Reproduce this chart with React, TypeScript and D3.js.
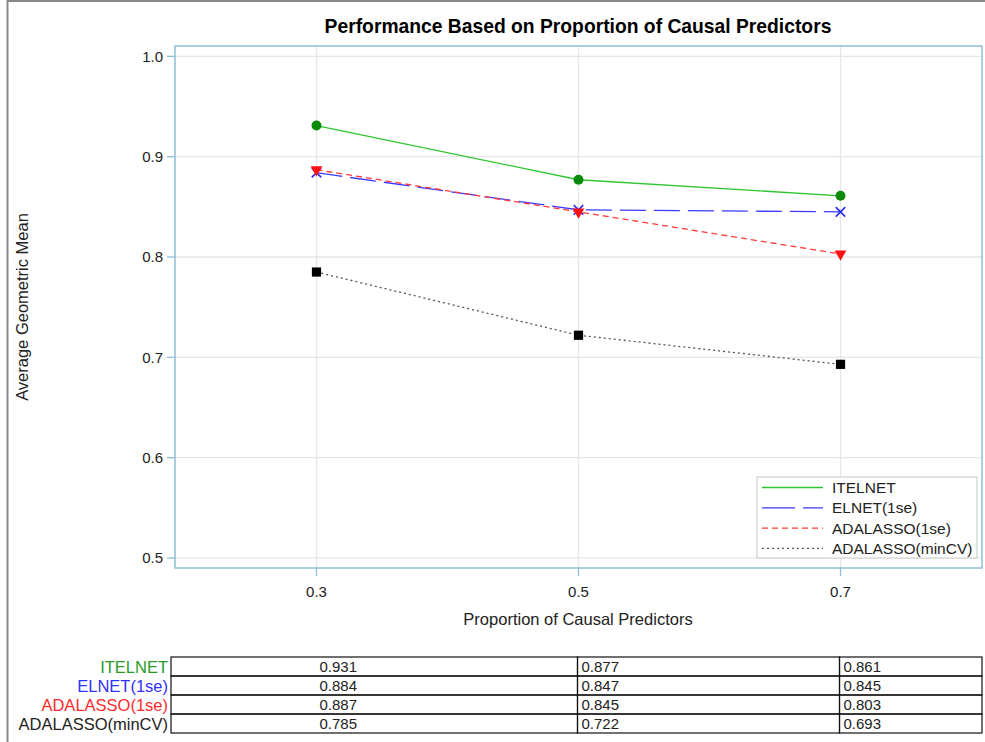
import * as d3 from 'd3';

const proportions = [0.3, 0.5, 0.7];
const seriesNames = ['ITELNET', 'ELNET(1se)', 'ADALASSO(1se)', 'ADALASSO(minCV)'];
const itelnet = [0.931, 0.877, 0.861];
const elnet1se = [0.884, 0.847, 0.845];
const adalasso1se = [0.887, 0.845, 0.803];
const adalassoMinCV = [0.785, 0.722, 0.693];
const yTicks = [0.5, 0.6, 0.7, 0.8, 0.9, 1.0];

const seriesValues = [itelnet, elnet1se, adalasso1se, adalassoMinCV];
const lineColors = ['#2ec62e', '#3a3aff', '#ff3b3b', '#555555'];
const markerColors = ['#0a8a0a', '#2a2aee', '#ff1010', '#000000'];
const labelColors = ['#2a9a2a', '#3030ff', '#ff2a2a', '#222222'];
const dashes = ['none', '26,8', '6,4', '2,3'];
const markerShapes = [d3.symbolCircle, d3.symbolX, d3.symbolTriangle, d3.symbolSquare];

const FONT = '"Liberation Sans", Arial, sans-serif';

const App = () => {
  const left = 175;
  const right = 982;
  const top = 46;
  const bottom = 568;

  const x = d3.scaleLinear().domain([0.192, 0.808]).range([left, right]);
  const y = d3.scaleLinear().domain([0.49, 1.0103]).range([bottom, top]);

  const line = d3
    .line<number>()
    .x((d, i) => x(proportions[i]))
    .y((d) => y(d));

  const symbolPath = (i: number) => {
    const size = i === 0 ? 78 : i === 1 ? 60 : i === 2 ? 60 : 85;
    return d3.symbol().type(markerShapes[i]).size(size)()!;
  };

  // table layout
  const tableTop = 657;
  const rowH = 19;
  const colEdges = [171, x(0.5) - 1, x(0.7) - 1, 982];

  return (
    <svg
      width={985}
      height={742}
      style={{ position: 'absolute', left: 0, top: 0, background: '#fff' }}
      fontFamily={FONT}
    >
      <rect x={7.5} y={1} width={990} height={760} fill="none" stroke="#8a8a8a" strokeWidth={2} />

      <text x={578} y={33} textAnchor="middle" fontSize={19.3} fontWeight="bold" fill="#000">
        Performance Based on Proportion of Causal Predictors
      </text>

      {/* grid */}
      {yTicks.map((t) => (
        <line key={'gy' + t} x1={left} x2={right} y1={y(t)} y2={y(t)} stroke="#e6e6e6" strokeWidth={1.3} />
      ))}
      {proportions.map((p) => (
        <line key={'gx' + p} x1={x(p)} x2={x(p)} y1={top} y2={bottom} stroke="#e6e6e6" strokeWidth={1.3} />
      ))}

      {/* axes ticks and labels */}
      {yTicks.map((t) => (
        <g key={'ty' + t}>
          <line x1={left - 8} x2={left} y1={y(t)} y2={y(t)} stroke="#8fbfd8" strokeWidth={1.3} />
          <text x={left - 12} y={y(t) + 5.5} textAnchor="end" fontSize={15} fill="#222">
            {d3.format('.1f')(t)}
          </text>
        </g>
      ))}
      {proportions.map((p) => (
        <g key={'tx' + p}>
          <line x1={x(p)} x2={x(p)} y1={bottom} y2={bottom + 8} stroke="#8fbfd8" strokeWidth={1.3} />
          <text x={x(p)} y={bottom + 29} textAnchor="middle" fontSize={15} fill="#222">
            {d3.format('.1f')(p)}
          </text>
        </g>
      ))}
      <text x={578} y={625} textAnchor="middle" fontSize={16.5} fill="#222">
        Proportion of Causal Predictors
      </text>
      <text
        transform={`translate(28,${(top + bottom) / 2}) rotate(-90)`}
        textAnchor="middle"
        fontSize={16.5}
        fill="#222"
      >
        Average Geometric Mean
      </text>

      {/* series */}
      {seriesValues.map((vals, i) => (
        <path
          key={'l' + i}
          d={line(vals)!}
          fill="none"
          stroke={lineColors[i]}
          strokeWidth={1.3}
          strokeDasharray={dashes[i]}
        />
      ))}
      {seriesValues.map((vals, i) =>
        vals.map((v, j) => (
          <path
            key={'m' + i + '-' + j}
            d={symbolPath(i)}
            transform={`translate(${x(proportions[j])},${y(v)})${i === 2 ? ' rotate(180)' : ''}`}
            fill={i === 1 ? 'none' : markerColors[i]}
            stroke={i === 1 ? markerColors[i] : 'none'}
            strokeWidth={i === 1 ? 1.6 : 0}
          />
        ))
      )}

      {/* frame */}
      <rect x={left} y={top} width={right - left} height={bottom - top} fill="none" stroke="#8fbfd8" strokeWidth={1.5} />

      {/* legend */}
      <rect x={757} y={477} width={220} height={81} fill="#fff" stroke="#c8c8c8" strokeWidth={1} />
      {seriesNames.map((name, i) => {
        const ly = 487.5 + i * 20.3;
        return (
          <g key={'lg' + i}>
            <line
              x1={762}
              x2={823}
              y1={ly}
              y2={ly}
              stroke={lineColors[i]}
              strokeWidth={1.3}
              strokeDasharray={i === 1 ? '33,8' : dashes[i]}
            />
            <text x={832} y={ly + 5.5} fontSize={15.5} fill="#222">
              {name}
            </text>
          </g>
        );
      })}

      {/* data table */}
      {seriesNames.map((name, i) => {
        const ry = tableTop + i * rowH;
        return (
          <g key={'row' + i}>
            <text x={168} y={ry + 15.5} textAnchor="end" fontSize={16.5} fill={labelColors[i]}>
              {name}
            </text>
            {proportions.map((p, j) => (
              <g key={'c' + j}>
                <rect
                  x={colEdges[j]}
                  y={ry}
                  width={colEdges[j + 1] - colEdges[j]}
                  height={rowH}
                  fill="none"
                  stroke="#111"
                  strokeWidth={1.2}
                />
                <text x={x(p) + 3} y={ry + 15} fontSize={15} fill="#222">
                  {d3.format('.3f')(seriesValues[i][j])}
                </text>
              </g>
            ))}
          </g>
        );
      })}
    </svg>
  );
};

export default App;
